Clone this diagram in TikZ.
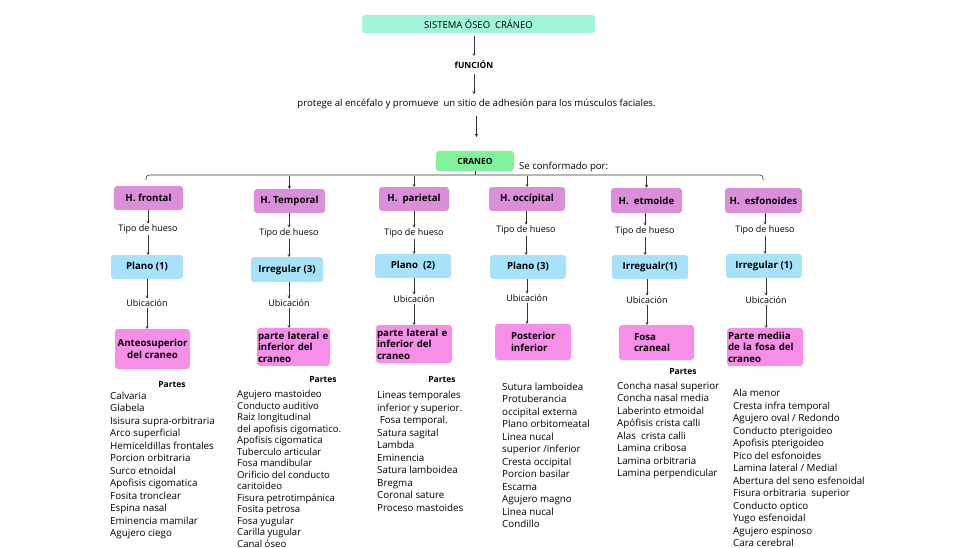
\documentclass[tikz,border=0pt]{standalone}
\usepackage{fontspec}
\setmainfont{Open Sans}
\usetikzlibrary{arrows.meta}
\definecolor{cteal}{HTML}{A2F6D8}
\definecolor{cgreen}{HTML}{80F29C}
\definecolor{corchid}{HTML}{DA8FD8}
\definecolor{cblue}{HTML}{A6E2FA}
\definecolor{cpink}{HTML}{F78EE8}
\tikzset{
  box/.style={rounded corners=3pt, inner sep=0pt, font=\fontsize{9.7}{11.5}\selectfont\bfseries},
  hbox/.style={box, fill=corchid},
  tbox/.style={box, fill=cblue},
  ubox/.style={box, fill=cpink},
  lbl/.style={inner sep=1pt, font=\fontsize{9}{11}\selectfont},
  arr/.style={-{To[length=3pt,width=3pt]}, line width=0.6pt, black!80},
  lst/.style={anchor=north west, inner sep=0pt, align=left, font=\fontsize{9.8}{12.5}\selectfont},
  partes/.style={inner sep=0pt, font=\fontsize{8.5}{10}\selectfont\bfseries},
}
\begin{document}
\begin{tikzpicture}[x=1pt,y=-1pt]
\useasboundingbox (0,0) rectangle (976,548);
% top
\node[box, fill=cteal, minimum width=233pt, minimum height=18pt, font=\fontsize{9.5}{10}\selectfont] (title) at (478.5,24) {SISTEMA ÓSEO\ \ CRÁNEO};
\node[lbl, font=\fontsize{8.5}{10}\selectfont\bfseries] (fun) at (474,65) {fUNCIÓN};
\node[lbl, font=\fontsize{9.6}{11}\selectfont] (prot) at (476.5,104) {protege al encéfalo y promueve\ \ un sitio de adhesión para los músculos faciales.};
\node[box, fill=cgreen, minimum width=78pt, minimum height=20pt, font=\fontsize{8.5}{10}\selectfont\bfseries] (cr) at (475,161) {CRANEO};
\node[lbl, anchor=west, font=\fontsize{9.6}{11}\selectfont] (se) at (518,167) {Se conformado por:};
\draw[arr, shorten <=3pt, shorten >=4pt] (title.south -| fun) -- (fun.north);
\draw[arr, shorten <=4pt, shorten >=4pt] (fun.south) -- (prot.north -| fun);
\draw[arr, shorten <=6pt, shorten >=14pt] (prot.south) -- (cr.north -| prot);

% H boxes
\node[hbox, minimum width=69pt, minimum height=24pt] (h1) at (148.5,198) {H. frontal};
\node[hbox, minimum width=71pt, minimum height=24pt] (h2) at (289.5,201) {H. Temporal};
\node[hbox, minimum width=70pt, minimum height=24pt] (h3) at (414,199) {H.\ \ parietal};
\node[hbox, minimum width=76pt, minimum height=24pt] (h4) at (527,199) {H. occípital};
\node[hbox, minimum width=71pt, minimum height=25pt] (h5) at (646.5,200.5) {H.\ \ etmoide};
\node[hbox, minimum width=77pt, minimum height=25pt] (h6) at (763.5,200.5) {H.\ \ esfonoides};

% bracket line
\coordinate (bl) at (146,180);
\coordinate (br) at (763,180);
\draw[line width=0.6pt, black!80, rounded corners=3pt] (bl) |- (454,175) -| (br);
\draw[line width=0.6pt, black!80] (cr.south) -- ++(0,4);
\foreach \h in {h2,h3,h4,h5}{
  \draw[arr] (\h.north |- 0,176) -- (\h.north);
}

% Tipo de hueso labels
\node[lbl] (t1) at (148,229) {Tipo de hueso};
\node[lbl] (t2) at (289,233) {Tipo de hueso};
\node[lbl] (t3) at (414,233) {Tipo de hueso};
\node[lbl] (t4) at (526,230) {Tipo de hueso};
\node[lbl] (t5) at (645,231) {Tipo de hueso};
\node[lbl] (t6) at (765,230) {Tipo de hueso};

% type boxes
\node[tbox, minimum width=72pt, minimum height=24pt] (p1) at (147,267) {Plano (1)};
\node[tbox, minimum width=72pt, minimum height=25pt] (p2) at (287,269.5) {Irregular (3)};
\node[tbox, minimum width=76pt, minimum height=24pt] (p3) at (413,266) {Plano\ \ (2)};
\node[tbox, minimum width=76pt, minimum height=24pt] (p4) at (528,267) {Plano (3)};
\node[tbox, minimum width=76pt, minimum height=24pt] (p5) at (650,267) {Irregualr(1)};
\node[tbox, minimum width=76pt, minimum height=24pt] (p6) at (764,266) {Irregular (1)};

% Ubicacion labels
\node[lbl] (u1) at (147,303) {Ubicación};
\node[lbl] (u2) at (289,303) {Ubicación};
\node[lbl] (u3) at (414,299) {Ubicación};
\node[lbl] (u4) at (527,298) {Ubicación};
\node[lbl] (u5) at (647,300) {Ubicación};
\node[lbl] (u6) at (766,300) {Ubicación};

% location boxes
\node[ubox, minimum width=75pt, minimum height=40pt, align=center] (l1) at (152.5,349) {Anteosuperior\\del craneo};
\node[ubox, minimum width=73pt, minimum height=38pt, align=left, text width=71pt] (l2) at (293.5,347) {parte lateral e\\inferior del\\craneo};
\node[ubox, minimum width=76pt, minimum height=38pt, align=left, text width=74pt] (l3) at (414,344) {parte lateral e\\inferior del\\craneo};
\node[ubox, minimum width=76pt, minimum height=36pt, align=left, text width=44pt] (l4) at (533,342) {Posterior\\inferior};
\node[ubox, minimum width=75pt, minimum height=35pt, align=left, text width=45pt] (l5) at (656.5,342.5) {Fosa\\craneal};
\node[ubox, minimum width=76pt, minimum height=38pt, align=left, text width=74pt] (l6) at (765,347) {Parte mediia\\de la fosa del\\craneo};

\foreach \i in {1,...,6}{
  \draw[arr] (h\i.south -| t\i) -- (t\i.north);
  \draw[arr] (t\i.south) -- (p\i.north -| t\i);
  \draw[arr] (p\i.south -| u\i) -- (u\i.north);
  \draw[arr] (u\i.south) -- (l\i.north -| u\i);
}

% Partes
\node[partes] (pa1) at (172,385) {Partes};
\node[partes] (pa2) at (323,380) {Partes};
\node[partes] (pa3) at (442,380) {Partes};
\node[partes] (pa5) at (683,372) {Partes};

\node[lst] (ls1) at (110,391.5) {Calvaria\\Glabela\\Isisura supra-orbitraria\\Arco superficial\\Hemiceldillas frontales\\Porcion orbitraria\\Surco etnoidal\\Apofisis cigomatica\\Fosita tronclear\\Espina nasal\\Eminencia mamilar\\Agujero ciego};
\node[lst, font=\fontsize{9.6}{11.5}\selectfont] (ls2) at (237,390.5) {Agujero mastoideo\\Conducto auditivo\\Raiz longitudinal\\del apofisis cigomatico.\\Apofisis cigomatica\\Tuberculo articular\\Fosa mandibular\\Orificio del conducto\\caritoideo\\Fisura petrotimpánica\\Fosita petrosa\\Fosa yugular\\Carilla yugular\\Canal óseo};
\node[lst] (ls3) at (377,391) {Lineas temporales\\inferior y superior.\\\ Fosa temporal.\\Satura sagital\\Lambda\\Eminencia\\Satura lamboidea\\Bregma\\Coronal sature\\Proceso mastoides};
\node[lst] (ls4) at (502,382.5) {Sutura lamboidea\\Protuberancia\\occipital externa\\Plano orbitomeatal\\Linea nucal\\superior /inferior\\Cresta occipital\\Porcion basilar\\Escama\\Agujero magno\\Linea nucal\\Condillo};
\node[lst] (ls5) at (617,381.5) {Concha nasal superior\\Concha nasal media\\Laberinto etmoidal\\Apófisis crista calli\\Alas\ \ crista calli\\Lamina cribosa\\Lamina orbitraria\\Lamina perpendicular};
\node[lst] (ls6) at (733,389) {Ala menor\\Cresta infra temporal\\Agujero oval / Redondo\\Conducto pterigoideo\\Apofisis pterigoideo\\Pico del esfonoides\\Lamina lateral / Medial\\Abertura del seno esfenoidal\\Fisura orbitraria\ \ superior\\Conducto optico\\Yugo esfenoidal\\Agujero espinoso\\Cara cerebral};
\end{tikzpicture}
\end{document}
